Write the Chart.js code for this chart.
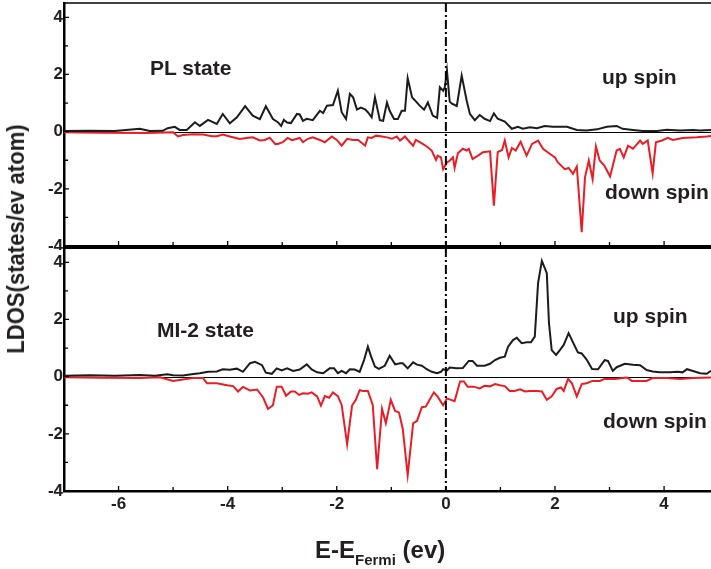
<!DOCTYPE html>
<html>
<head>
<meta charset="utf-8">
<script src="https://cdn.jsdelivr.net/npm/chart.js@4.4.0/dist/chart.umd.min.js"></script>
<style>
  html, body { margin: 0; padding: 0; background: #fff; overflow: hidden; }
  body { width: 711px; height: 569px; position: relative; font-family: "Liberation Sans", Arial, sans-serif; font-weight: bold; color: #231f20; }
  .panel { position: absolute; left: 0; width: 711px; }
  #topPanel { top: 0; height: 250px; }
  #botPanel { top: 247px; height: 322px; }
  .lbl { position: absolute; white-space: nowrap; font-size: 21px; line-height: 21px; }
  #ytitle { position: absolute; left: 16px; top: 239px; white-space: nowrap; font-size: 24px; line-height: 24px;
            transform: translate(-50%, -50%) rotate(-90deg) scaleX(0.92); }
  #xtitle { position: absolute; left: 315px; top: 538px; white-space: nowrap; font-size: 24px; line-height: 24px; }
  #xtitle .sub { font-size: 15px; position: relative; top: 7px; }
</style>
</head>
<body>
<div class="panel" id="topPanel"><canvas id="plChart"></canvas></div>
<div class="panel" id="botPanel"><canvas id="miChart"></canvas></div>

<div class="lbl" style="left:150px; top:57px;">PL state</div>
<div class="lbl" style="left:602px; top:66px;">up spin</div>
<div class="lbl" style="left:605px; top:181px;">down spin</div>
<div class="lbl" style="left:157px; top:319px;">MI-2 state</div>
<div class="lbl" style="left:613px; top:305px;">up spin</div>
<div class="lbl" style="left:603px; top:410px;">down spin</div>
<div id="ytitle">LDOS(states/ev atom)</div>
<div id="xtitle">E-E<span class="sub">Fermi</span> (ev)</div>

<script>
// tick values
const xTickValues = [-6, -4, -2, 0, 2, 4];
const xMinorTicks = [-5, -3, -1, 1, 3];
const yTickValues = [-4, -2, 0, 2, 4];
const yMinorTicks = [-3, -1, 1, 3];

// PL state, up spin
const plUpE = [-7.0,-6.53,-6.07,-5.61,-5.43,-5.19,-5.10,-4.97,-4.88,-4.75,-4.60,-4.51,-4.36,-4.20,-4.09,-3.96,-3.83,-3.68,-3.54,-3.41,-3.30,-3.17,-3.08,-3.02,-2.97,-2.91,-2.84,-2.73,-2.68,-2.62,-2.55,-2.44,-2.31,-2.25,-2.18,-2.07,-1.98,-1.91,-1.83,-1.76,-1.70,-1.63,-1.56,-1.48,-1.43,-1.36,-1.30,-1.21,-1.15,-1.08,-1.03,-0.95,-0.88,-0.81,-0.75,-0.70,-0.62,-0.57,-0.48,-0.40,-0.33,-0.24,-0.16,-0.11,-0.05,-0.02,0.02,0.07,0.11,0.20,0.29,0.38,0.44,0.53,0.62,0.71,0.81,0.88,0.95,1.08,1.21,1.32,1.41,1.54,1.67,1.81,1.96,2.22,2.40,2.58,2.77,2.95,3.13,3.24,3.43,3.61,3.87,4.05,4.29,4.53,4.66,4.86];
const plUpDos = [0.02,0.03,0.02,0.10,0.02,0.03,0.12,0.17,0.06,0.06,0.33,0.20,0.41,0.27,0.62,0.29,0.50,0.89,0.56,0.44,0.89,0.44,0.33,0.20,0.41,0.32,0.30,0.62,0.60,0.38,0.45,0.40,0.73,0.65,0.91,0.93,1.43,0.68,0.44,1.32,1.20,0.77,0.84,0.78,0.68,0.50,1.20,0.40,0.38,1.02,0.73,0.44,0.44,0.73,0.73,1.87,1.20,1.10,0.91,0.77,1.02,0.56,0.48,1.55,1.43,1.55,2.13,1.05,0.98,0.90,1.96,1.10,0.62,0.40,0.58,0.45,0.37,0.64,0.45,0.35,0.10,0.17,0.10,0.15,0.12,0.20,0.17,0.17,0.06,0.04,0.08,0.17,0.20,0.10,0.06,0.02,0.02,0.07,0.04,0.06,0.04,0.06];

// PL state, down spin
const plDownE = [-7.0,-6.34,-5.48,-5.00,-4.91,-4.82,-4.64,-4.45,-4.29,-4.20,-4.09,-3.96,-3.78,-3.65,-3.54,-3.41,-3.32,-3.23,-3.13,-3.08,-2.99,-2.90,-2.82,-2.73,-2.68,-2.62,-2.53,-2.44,-2.31,-2.22,-2.09,-2.00,-1.91,-1.81,-1.70,-1.61,-1.48,-1.43,-1.36,-1.28,-1.17,-1.08,-0.99,-0.90,-0.84,-0.75,-0.66,-0.60,-0.55,-0.44,-0.35,-0.26,-0.18,-0.15,-0.09,-0.05,0.02,0.07,0.13,0.16,0.22,0.31,0.38,0.42,0.49,0.59,0.68,0.81,0.88,0.95,1.03,1.08,1.15,1.21,1.28,1.37,1.48,1.58,1.69,1.78,1.91,2.00,2.05,2.18,2.25,2.33,2.40,2.49,2.55,2.62,2.69,2.75,2.82,2.91,3.01,3.13,3.19,3.26,3.34,3.43,3.56,3.61,3.70,3.79,3.85,3.96,4.07,4.16,4.34,4.60,4.78,4.86];
const plDownDos = [-0.02,-0.04,-0.05,-0.02,-0.17,-0.12,-0.09,-0.10,-0.16,-0.16,-0.10,-0.17,-0.26,-0.22,-0.20,-0.31,-0.29,-0.21,-0.43,-0.43,-0.37,-0.22,-0.30,-0.25,-0.22,-0.37,-0.25,-0.20,-0.29,-0.37,-0.17,-0.29,-0.49,-0.25,-0.29,-0.29,-0.49,-0.20,-0.22,-0.14,-0.17,-0.20,-0.25,-0.17,-0.31,-0.17,-0.37,-0.49,-0.29,-0.41,-0.52,-0.66,-0.99,-0.84,-0.90,-1.31,-1.08,-1.02,-0.90,-1.27,-0.76,-0.60,-0.66,-0.60,-0.96,-0.84,-0.72,-0.69,-2.59,-0.72,-0.64,-0.31,-0.90,-0.57,-0.66,-0.35,-0.84,-0.43,-0.31,-0.60,-0.78,-0.90,-1.07,-1.31,-1.27,-1.48,-1.22,-3.52,-1.60,-1.01,-1.66,-0.52,-1.01,-1.20,-1.57,-0.66,-0.60,-0.90,-0.49,-0.60,-0.31,-0.43,-0.31,-1.46,-0.37,-0.31,-0.22,-0.29,-0.22,-0.20,-0.17,-0.15];

// MI-2 state, up spin
const miUpE = [-7.0,-6.53,-6.07,-5.61,-5.33,-5.11,-5.00,-4.82,-4.66,-4.51,-4.36,-4.20,-4.09,-3.96,-3.83,-3.72,-3.59,-3.50,-3.37,-3.30,-3.19,-3.10,-3.01,-2.91,-2.80,-2.68,-2.55,-2.46,-2.36,-2.25,-2.13,-2.05,-1.98,-1.91,-1.83,-1.76,-1.67,-1.58,-1.50,-1.43,-1.37,-1.30,-1.23,-1.12,-1.03,-0.93,-0.84,-0.79,-0.70,-0.60,-0.53,-0.44,-0.35,-0.26,-0.16,-0.09,-0.05,0.02,0.07,0.20,0.31,0.42,0.49,0.57,0.71,0.81,0.90,0.99,1.08,1.14,1.23,1.30,1.39,1.48,1.56,1.63,1.69,1.76,1.85,1.89,1.94,2.02,2.09,2.16,2.25,2.33,2.42,2.49,2.58,2.68,2.79,2.91,2.97,3.06,3.13,3.28,3.43,3.56,3.68,3.79,3.92,4.11,4.25,4.34,4.42,4.53,4.66,4.78,4.86];
const miUpDos = [0.03,0.05,0.03,0.06,0.03,0.08,0.05,0.04,0.08,0.12,0.17,0.18,0.26,0.24,0.28,0.17,0.47,0.52,0.40,0.14,0.10,0.29,0.22,0.29,0.20,0.25,0.43,0.25,0.15,0.12,0.29,0.29,0.12,0.20,0.12,0.26,0.25,0.17,0.58,1.05,0.70,0.35,0.27,0.38,0.73,0.43,0.47,0.47,0.29,0.50,0.42,0.38,0.26,0.17,0.12,0.17,0.26,0.22,0.32,0.29,0.30,0.55,0.55,0.38,0.38,0.45,0.58,0.66,0.70,1.05,1.28,1.36,1.17,1.20,1.20,1.40,3.27,4.05,3.62,1.87,0.93,0.76,0.93,1.11,1.52,1.20,0.85,0.81,0.60,0.27,0.26,0.58,0.55,0.20,0.33,0.45,0.42,0.40,0.23,0.18,0.15,0.15,0.17,0.15,0.26,0.20,0.12,0.10,0.20];

// MI-2 state, down spin
const miDownE = [-7.0,-6.34,-5.61,-5.24,-5.00,-4.82,-4.64,-4.45,-4.38,-4.20,-4.01,-3.90,-3.81,-3.72,-3.59,-3.46,-3.35,-3.26,-3.17,-3.10,-3.01,-2.93,-2.84,-2.77,-2.69,-2.62,-2.53,-2.46,-2.36,-2.29,-2.22,-2.14,-2.07,-1.98,-1.91,-1.81,-1.72,-1.65,-1.58,-1.52,-1.43,-1.34,-1.26,-1.17,-1.10,-1.01,-0.93,-0.86,-0.79,-0.70,-0.60,-0.53,-0.44,-0.37,-0.29,-0.22,-0.15,-0.05,0.02,0.16,0.26,0.33,0.40,0.51,0.62,0.71,0.81,0.90,0.99,1.08,1.17,1.26,1.36,1.45,1.54,1.67,1.76,1.85,1.94,2.03,2.11,2.16,2.24,2.31,2.40,2.49,2.58,2.69,2.82,2.91,3.10,3.32,3.41,3.56,3.68,3.79,4.05,4.29,4.53,4.86];
const miDownDos = [-0.02,-0.04,-0.05,-0.02,-0.15,-0.10,-0.05,-0.05,-0.23,-0.23,-0.30,-0.33,-0.52,-0.36,-0.48,-0.45,-0.73,-1.13,-1.00,-0.35,-0.35,-0.67,-0.52,-0.52,-0.64,-0.58,-0.60,-0.55,-0.69,-1.01,-0.68,-0.74,-0.55,-0.68,-0.99,-2.36,-1.01,-0.81,-0.47,-0.50,-0.50,-0.99,-3.24,-1.13,-1.63,-0.81,-1.20,-1.25,-1.83,-3.44,-1.63,-1.55,-1.07,-1.05,-0.78,-0.55,-0.70,-1.00,-0.76,-0.86,-0.17,-0.17,-0.35,-0.35,-0.41,-0.32,-0.34,-0.26,-0.30,-0.33,-0.50,-0.50,-0.44,-0.52,-0.50,-0.50,-0.52,-0.81,-0.69,-0.43,-0.38,-0.50,-0.08,-0.23,-0.69,-0.26,-0.23,-0.15,-0.15,-0.08,-0.08,-0.03,-0.15,-0.15,-0.15,-0.05,-0.05,-0.08,-0.05,-0.03];

const FONT = '"Liberation Sans", Arial, sans-serif';

function pts(es, ds) {
    return es.map((e, i) => ({ x: e, y: ds[i] }));
}

// zero line, Fermi level line, inward ticks, top frame line
const panelDecor = {
    id: 'panelDecor',
    beforeDatasetsDraw(chart, args, opts) {
        const { ctx, chartArea: a, scales: { y } } = chart;
        ctx.save();
        ctx.strokeStyle = '#000';
        ctx.lineWidth = 1;
        const y0 = Math.round(y.getPixelForValue(0)) + 0.5;
        ctx.beginPath();
        ctx.moveTo(a.left, y0);
        ctx.lineTo(a.right, y0);
        ctx.stroke();
        ctx.restore();
    },
    afterDatasetsDraw(chart, args, opts) {
        const { ctx, chartArea: a, scales: { x, y } } = chart;
        ctx.save();
        ctx.strokeStyle = '#000';
        ctx.lineWidth = 2;
        ctx.setLineDash([9, 3, 2, 3]);
        const x0 = x.getPixelForValue(0);
        ctx.beginPath();
        ctx.moveTo(x0, a.top);
        ctx.lineTo(x0, a.bottom);
        ctx.stroke();
        ctx.setLineDash([]);

        ctx.lineWidth = 1.3;
        ctx.beginPath();
        yTickValues.forEach(v => { const p = y.getPixelForValue(v); ctx.moveTo(a.left, p); ctx.lineTo(a.left + 5, p); });
        yMinorTicks.forEach(v => { const p = y.getPixelForValue(v); ctx.moveTo(a.left, p); ctx.lineTo(a.left + 4, p); });
        xTickValues.forEach(v => { const p = x.getPixelForValue(v); ctx.moveTo(p, a.bottom); ctx.lineTo(p, a.bottom - 5); });
        xMinorTicks.forEach(v => { const p = x.getPixelForValue(v); ctx.moveTo(p, a.bottom); ctx.lineTo(p, a.bottom - 4); });
        ctx.stroke();

        ctx.lineWidth = opts.topWidth;
        ctx.beginPath();
        ctx.moveTo(a.left, a.top);
        ctx.lineTo(a.right, a.top);
        ctx.stroke();
        ctx.restore();
    }
};

function makePanel(id, upE, upDos, downE, downDos, showX) {
    return new Chart(document.getElementById(id), {
        type: 'line',
        data: {
            datasets: [
                { data: pts(upE, upDos), borderColor: '#1c1c1c', borderWidth: 2, pointRadius: 0, tension: 0 },
                { data: pts(downE, downDos), borderColor: '#ec1c24', borderWidth: 2, pointRadius: 0, tension: 0 }
            ]
        },
        options: {
            responsive: true,
            maintainAspectRatio: false,
            animation: false,
            devicePixelRatio: 1,
            layout: { autoPadding: false, padding: { top: showX ? 1 : 3, left: 0, right: 0, bottom: 0 } },
            plugins: {
                legend: { display: false },
                tooltip: { enabled: false },
                panelDecor: { topWidth: showX ? 2 : 1.5 }
            },
            scales: {
                x: {
                    type: 'linear',
                    min: -7,
                    max: 4.86,
                    afterBuildTicks: s => { s.ticks = xTickValues.map(v => ({ value: v })); },
                    afterFit: s => { s.height = showX ? 78 : 4; s.paddingLeft = 0; s.paddingRight = 0; },
                    grid: { display: true, drawOnChartArea: false, drawTicks: false },
                    border: { display: true, color: '#000', width: showX ? 2.5 : 3 },
                    ticks: {
                        display: showX,
                        autoSkip: false,
                        maxRotation: 0,
                        padding: 3,
                        color: '#231f20',
                        font: { family: FONT, size: 17, weight: 'bold' }
                    }
                },
                y: {
                    min: -4,
                    max: 4.5,
                    afterBuildTicks: s => { s.ticks = yTickValues.map(v => ({ value: v })); },
                    afterFit: s => { s.width = 64; s.paddingTop = 0; s.paddingBottom = 0; },
                    grid: { display: true, drawOnChartArea: false, drawTicks: false },
                    border: { display: true, color: '#000', width: 2.5 },
                    ticks: {
                        padding: 1,
                        color: '#231f20',
                        font: { family: FONT, size: 17, weight: 'bold' }
                    }
                }
            }
        },
        plugins: [panelDecor]
    });
}

makePanel('plChart', plUpE, plUpDos, plDownE, plDownDos, false);
makePanel('miChart', miUpE, miUpDos, miDownE, miDownDos, true);
</script>
</body>
</html>
